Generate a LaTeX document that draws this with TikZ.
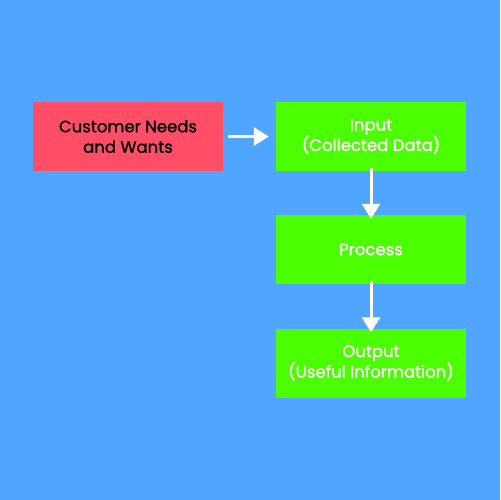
\documentclass[tikz,border=0pt]{standalone}
\usepackage{fontspec}
\setmainfont{Poppins}[FakeBold=1.2,BoldFont={Poppins},BoldFeatures={FakeBold=1.2}]
\usetikzlibrary{arrows.meta}
\definecolor{bg}{RGB}{80,166,255}
\definecolor{redbox}{RGB}{255,78,102}
\definecolor{greenbox}{RGB}{76,255,0}
\tikzset{
  box/.style={draw=none, minimum width=190bp, minimum height=69bp, inner sep=0pt, align=center, font=\bfseries\fontsize{16.5bp}{20.5bp}\selectfont},
  redstep/.style={box, fill=redbox, text=black},
  greenstep/.style={box, fill=greenbox, text=white},
  flow/.style={draw=white, line width=3bp, -{Triangle[width=18bp,length=15bp]}}
}
\begin{document}
\begin{tikzpicture}[x=1bp,y=-1bp]
\fill[bg] (0,0) rectangle (500,500);
\useasboundingbox (0,0) rectangle (500,500);
\node[redstep] (need) at (128,136.5) {Customer Needs\\and Wants};
\node[greenstep] (input) at (371,136.5) {Input\\(Collected Data)};
\node[greenstep] (proc) at (371,249.5) {Process};
\node[greenstep] (out) at (371,363) {Output\\(Useful Information)};
\draw[flow] ([xshift=5bp]need.east) -- ([xshift=-7bp]input.west);
\draw[flow] ([yshift=3bp]input.south) -- ([yshift=-4bp]proc.north);
\draw[flow] ([yshift=3bp]proc.south) -- ([yshift=-4bp]out.north);
\end{tikzpicture}
\end{document}
